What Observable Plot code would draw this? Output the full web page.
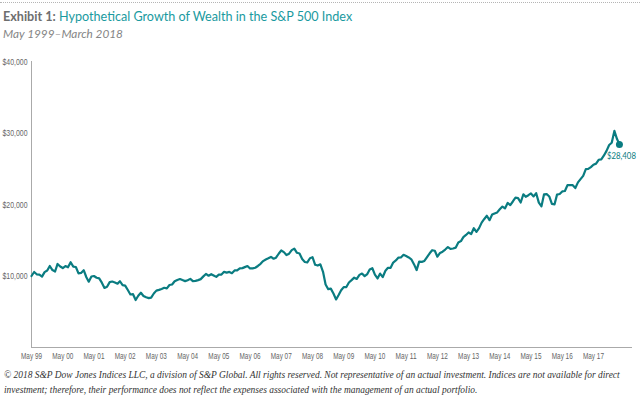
<!DOCTYPE html>
<html><head><meta charset="utf-8">
<script src="https://cdn.jsdelivr.net/npm/d3@7"></script>
<script src="https://cdn.jsdelivr.net/npm/@observablehq/plot@0.6"></script>
<style>
body{margin:0;background:#fff;width:640px;height:398px;overflow:hidden;position:relative;font-family:Lato,"Open Sans",sans-serif}
#rule{position:absolute;left:0;top:2px;width:640px;border-top:1px dotted #b5b5b5}
#title{position:absolute;left:3px;top:9px;font-size:12.6px;color:#1a9aa0;white-space:nowrap}
#title b{color:#6e6e6e}
#sub{position:absolute;left:3px;top:26px;font-size:11.8px;font-style:italic;color:#858585;white-space:nowrap}
#chart{position:absolute;left:0;top:45px}
#note{position:absolute;left:4px;top:368px;width:636px;font-family:"Liberation Serif",serif;font-style:italic;font-size:9.45px;line-height:15px;color:#333;white-space:nowrap}
</style></head>
<body>
<div id="rule"></div>
<div id="title"><b>Exhibit 1:</b> Hypothetical Growth of Wealth in the S&amp;P 500 Index</div>
<div id="sub">May 1999–March 2018</div>
<div id="chart"></div>
<div id="note">© 2018 S&amp;P Dow Jones Indices LLC, a division of S&amp;P Global. All rights reserved. Not representative of an actual investment. Indices are not available for direct<br>investment; therefore, their performance does not reflect the expenses associated with the management of an actual portfolio.</div>
<script>
// Monthly values from May 1999 to March 2018
const startYear = 1999;
const startMonth = 4; // May (0-based)
const monthlyValues = [
  10000,10561,10238,10184,9913,10547,10764,11401,10835,10633,11685,11336,
  11111,11394,11223,11923,11303,11257,10375,10430,10809,9827,9206,9927,
  9998,9758,9669,9068,8336,8501,9148,9234,9103,8931,9267,8715,
  8647,8035,7413,7457,6644,7234,7654,7206,7020,6907,6975,7554,
  7953,8056,8192,8354,8267,8736,8807,9271,9443,9574,9429,9284,
  9416,9598,9284,9314,9421,9562,9949,10287,10039,10249,10068,9878,
  10193,10199,10583,10479,10572,10398,10776,10784,11076,11102,11239,11395,
  11055,11072,11150,11403,11700,12086,12306,12473,12668,12413,12556,13114,
  13568,13340,12933,13122,13614,13831,13243,13146,12368,11955,11901,12486,
  12631,11566,11465,11628,10583,8808,8157,8233,7542,6721,7308,8006,
  8441,8454,9093,9420,9767,9587,10158,10349,9983,10277,10898,11083,
  10183,9655,10336,9853,10733,11145,11143,11887,12170,12576,12585,12965,
  12804,12594,12336,11657,10831,12018,11978,12102,12640,13180,13605,13528,
  12696,13220,13405,13697,14049,13787,13847,13965,14692,14881,15434,15743,
  16092,15869,16685,16184,16695,17465,17979,18425,17803,18589,18747,18895,
  19326,19717,19454,20210,19927,20422,20959,20899,20279,21429,21084,21299,
  21546,21127,21580,20256,19751,21419,21461,21121,20076,20023,21381,21465,
  21831,21884,22700,22703,22705,22299,23099,23554,24010,24943,24969,25228,
  25563,25718,26256,26317,26857,27495,28317,28638,30289,29152,28408
];
const xTickYears = [1999,2000,2001,2002,2003,2004,2005,2006,2007,2008,2009,2010,2011,2012,2013,2014,2015,2016,2017];
const yTicks = [10000,20000,30000,40000];
const endLabel = "$28,408";

const data = monthlyValues.map((v, i) => ({date: new Date(Date.UTC(startYear, startMonth + i, 1)), value: v}));
const last = data[data.length - 1];
const xStart = new Date(Date.UTC(1999, 4, 1));
const xEnd = new Date(Date.UTC(2018, 7, 1));
const xTicks = xTickYears.map(y => new Date(Date.UTC(y, 4, 1)));
const teal = "#0a7c81";

const chart = Plot.plot({
  width: 640, height: 320,
  marginTop: 16, marginBottom: 18, marginLeft: 31, marginRight: 8,
  style: {fontFamily: '"Liberation Sans",Arial,sans-serif', fontSize: "9.5px", color: "#666", background: "transparent"},
  x: {type: "utc", domain: [xStart, xEnd]},
  y: {domain: [0, 40000]},
  marks: [
    Plot.axisY({ticks: yTicks, tickSize: 0, tickPadding: 4, tickFormat: d => "$" + d3.format(",")(d), label: null}),
    Plot.axisX({ticks: xTicks, tickSize: 0, tickPadding: 5, tickFormat: d => "May " + String(d.getUTCFullYear()).slice(2), label: null}),
    Plot.ruleY([0], {stroke: "#aaa"}),
    Plot.ruleX([xStart], {stroke: "#aaa"}),
    Plot.line(data, {x: "date", y: "value", stroke: teal, strokeWidth: 2.2}),
    Plot.dot([last], {x: "date", y: "value", r: 3.5, fill: teal}),
    Plot.text([last], {x: "date", y: "value", text: () => endLabel, dx: 2, dy: 12, fill: teal, fontSize: 8.5, fontFamily: "Lato, sans-serif"})
  ]
});
// condense the tick labels like the reference's narrow face
chart.querySelectorAll("text").forEach(t => {
  const s = t.textContent;
  let len = null;
  if (s === endLabel) len = 29;
  else if (s.startsWith("$")) len = 25;
  else if (s.startsWith("May")) len = 21;
  if (len) { t.setAttribute("textLength", len); t.setAttribute("lengthAdjust", "spacingAndGlyphs"); }
});
document.getElementById("chart").appendChild(chart);
</script>
</body></html>
